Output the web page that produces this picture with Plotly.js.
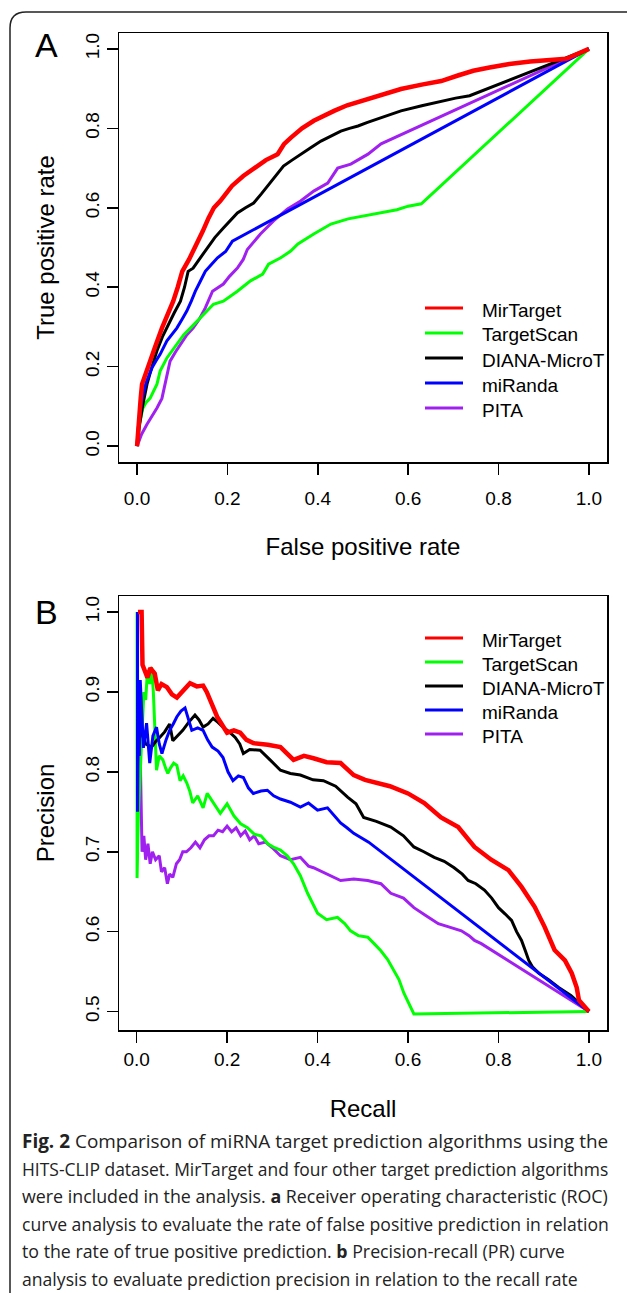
<!DOCTYPE html>
<html><head><meta charset="utf-8">
<script src="https://cdn.plot.ly/plotly-3.0.1.min.js"></script>
<style>html,body{margin:0;padding:0;background:#fff}</style>
</head><body><div id="chart" style="width:627px;height:1293px"></div>
<script>
// ---------- DATA ----------
const seriesNames = ['MirTarget', 'TargetScan', 'DIANA-MicroT', 'miRanda', 'PITA'];
const seriesColors = ['#ff0000', '#00ff00', '#000000', '#0000ff', '#a020f0'];
const tickValues = [0, 0.2, 0.4, 0.6, 0.8, 1.0];
const tickLabels = ['0.0', '0.2', '0.4', '0.6', '0.8', '1.0'];
const prTickValues = [0.5, 0.6, 0.7, 0.8, 0.9, 1.0];
const prTickLabels = ['0.5', '0.6', '0.7', '0.8', '0.9', '1.0'];

// ROC (panel A): false positive rate / true positive rate
const rocMirTargetFpr = [0, 0.003, 0.008, 0.011, 0.018, 0.029, 0.04, 0.055, 0.068, 0.08, 0.09, 0.1, 0.115, 0.129, 0.145, 0.158, 0.17, 0.184, 0.197, 0.21, 0.235, 0.258, 0.285, 0.311, 0.325, 0.34, 0.365, 0.391, 0.415, 0.436, 0.465, 0.496, 0.52, 0.54, 0.584, 0.63, 0.673, 0.71, 0.744, 0.78, 0.824, 0.87, 0.922, 0.95, 1.0];
const rocMirTargetTpr = [0, 0.06, 0.12, 0.156, 0.18, 0.214, 0.25, 0.297, 0.33, 0.365, 0.4, 0.44, 0.47, 0.5, 0.54, 0.574, 0.6, 0.617, 0.638, 0.655, 0.68, 0.70, 0.72, 0.735, 0.76, 0.776, 0.80, 0.819, 0.833, 0.844, 0.858, 0.869, 0.876, 0.882, 0.899, 0.91, 0.919, 0.933, 0.945, 0.953, 0.962, 0.968, 0.972, 0.975, 1.0];
const rocTargetScanFpr = [0, 0.002, 0.008, 0.013, 0.02, 0.029, 0.044, 0.051, 0.066, 0.077, 0.088, 0.103, 0.118, 0.133, 0.147, 0.169, 0.191, 0.207, 0.222, 0.251, 0.278, 0.291, 0.318, 0.34, 0.356, 0.391, 0.429, 0.467, 0.502, 0.54, 0.575, 0.6, 0.629, 1.0];
const rocTargetScanTpr = [0, 0.038, 0.07, 0.096, 0.11, 0.121, 0.156, 0.189, 0.222, 0.24, 0.257, 0.28, 0.297, 0.315, 0.332, 0.357, 0.365, 0.378, 0.39, 0.416, 0.433, 0.458, 0.474, 0.491, 0.509, 0.534, 0.559, 0.572, 0.579, 0.587, 0.595, 0.604, 0.61, 1.0];
const rocDianaFpr = [0, 0.005, 0.012, 0.022, 0.033, 0.044, 0.056, 0.069, 0.082, 0.096, 0.105, 0.113, 0.124, 0.14, 0.156, 0.172, 0.191, 0.205, 0.222, 0.24, 0.258, 0.275, 0.289, 0.305, 0.324, 0.343, 0.362, 0.385, 0.407, 0.43, 0.451, 0.47, 0.489, 0.51, 0.533, 0.56, 0.584, 0.63, 0.673, 0.705, 0.736, 1.0];
const rocDianaTpr = [0, 0.05, 0.1, 0.156, 0.2, 0.24, 0.275, 0.307, 0.335, 0.365, 0.4, 0.44, 0.448, 0.474, 0.499, 0.525, 0.549, 0.567, 0.587, 0.6, 0.612, 0.635, 0.655, 0.68, 0.705, 0.72, 0.735, 0.752, 0.768, 0.782, 0.793, 0.8, 0.806, 0.815, 0.824, 0.834, 0.844, 0.857, 0.869, 0.876, 0.882, 1.0];
const rocMirandaFpr = [0, 0.002, 0.006, 0.01, 0.02, 0.033, 0.042, 0.051, 0.066, 0.077, 0.088, 0.1, 0.11, 0.12, 0.129, 0.14, 0.151, 0.165, 0.178, 0.196, 0.211, 1.0];
const rocMirandaTpr = [0, 0.04, 0.08, 0.113, 0.16, 0.197, 0.215, 0.231, 0.265, 0.28, 0.297, 0.32, 0.34, 0.365, 0.39, 0.415, 0.44, 0.458, 0.474, 0.49, 0.516, 1.0];
const rocPitaFpr = [0, 0.01, 0.022, 0.033, 0.044, 0.055, 0.062, 0.068, 0.073, 0.085, 0.096, 0.11, 0.124, 0.138, 0.151, 0.16, 0.167, 0.191, 0.205, 0.222, 0.235, 0.244, 0.258, 0.273, 0.302, 0.333, 0.362, 0.391, 0.422, 0.435, 0.444, 0.473, 0.511, 0.54, 1.0];
const rocPitaTpr = [0, 0.03, 0.055, 0.075, 0.096, 0.12, 0.156, 0.19, 0.214, 0.237, 0.257, 0.28, 0.297, 0.32, 0.348, 0.37, 0.39, 0.408, 0.428, 0.448, 0.47, 0.495, 0.515, 0.534, 0.567, 0.597, 0.617, 0.642, 0.662, 0.685, 0.70, 0.71, 0.735, 0.761, 1.0];

// PR (panel B): recall / precision
const prMirTargetRecall = [0.003, 0.011, 0.013, 0.018, 0.024, 0.03, 0.04, 0.047, 0.055, 0.067, 0.078, 0.089, 0.1, 0.11, 0.118, 0.133, 0.147, 0.155, 0.162, 0.17, 0.178, 0.19, 0.2, 0.215, 0.229, 0.243, 0.258, 0.29, 0.318, 0.347, 0.37, 0.391, 0.42, 0.451, 0.48, 0.505, 0.533, 0.56, 0.6, 0.636, 0.673, 0.711, 0.747, 0.784, 0.822, 0.851, 0.88, 0.902, 0.924, 0.947, 0.962, 0.973, 0.978, 1.0];
const prMirTargetPrecision = [1.0, 1.0, 0.934, 0.925, 0.918, 0.93, 0.923, 0.902, 0.91, 0.906, 0.897, 0.893, 0.9, 0.905, 0.911, 0.907, 0.908, 0.9, 0.89, 0.88, 0.869, 0.858, 0.849, 0.852, 0.849, 0.84, 0.836, 0.834, 0.831, 0.815, 0.82, 0.817, 0.812, 0.811, 0.796, 0.79, 0.786, 0.782, 0.773, 0.761, 0.743, 0.731, 0.706, 0.69, 0.677, 0.656, 0.631, 0.606, 0.577, 0.564, 0.548, 0.53, 0.514, 0.5];
const prTargetScanRecall = [0.001, 0.001, 0.004, 0.008, 0.012, 0.016, 0.02, 0.024, 0.029, 0.033, 0.037, 0.04, 0.044, 0.05, 0.058, 0.064, 0.069, 0.075, 0.082, 0.089, 0.096, 0.103, 0.111, 0.118, 0.124, 0.135, 0.147, 0.156, 0.165, 0.175, 0.185, 0.2, 0.215, 0.23, 0.245, 0.26, 0.275, 0.29, 0.305, 0.318, 0.333, 0.347, 0.362, 0.378, 0.39, 0.4, 0.42, 0.444, 0.46, 0.473, 0.49, 0.511, 0.525, 0.54, 0.555, 0.569, 0.58, 0.591, 0.602, 0.613, 1.0];
const prTargetScanPrecision = [1.0, 0.667, 0.75, 0.80, 0.85, 0.90, 0.89, 0.927, 0.91, 0.931, 0.90, 0.861, 0.802, 0.82, 0.815, 0.805, 0.798, 0.805, 0.811, 0.808, 0.789, 0.795, 0.786, 0.775, 0.761, 0.77, 0.755, 0.773, 0.765, 0.757, 0.748, 0.76, 0.745, 0.735, 0.73, 0.722, 0.72, 0.71, 0.705, 0.702, 0.695, 0.685, 0.67, 0.648, 0.635, 0.623, 0.615, 0.618, 0.61, 0.601, 0.595, 0.593, 0.585, 0.576, 0.565, 0.551, 0.54, 0.523, 0.51, 0.497, 0.5];
const prDianaRecall = [0.01, 0.02, 0.033, 0.042, 0.051, 0.062, 0.073, 0.08, 0.09, 0.102, 0.115, 0.129, 0.138, 0.147, 0.158, 0.169, 0.18, 0.191, 0.205, 0.218, 0.228, 0.236, 0.25, 0.273, 0.295, 0.318, 0.34, 0.362, 0.39, 0.413, 0.44, 0.467, 0.485, 0.502, 0.53, 0.562, 0.59, 0.613, 0.635, 0.658, 0.68, 0.702, 0.72, 0.733, 0.75, 0.769, 0.785, 0.8, 0.815, 0.829, 0.84, 0.851, 0.86, 0.867, 0.875, 0.889, 0.91, 0.933, 0.96, 1.0];
const prDianaPrecision = [0.85, 0.835, 0.831, 0.838, 0.843, 0.85, 0.86, 0.839, 0.845, 0.852, 0.862, 0.871, 0.865, 0.856, 0.86, 0.867, 0.862, 0.856, 0.85, 0.843, 0.835, 0.823, 0.828, 0.827, 0.815, 0.802, 0.798, 0.796, 0.79, 0.789, 0.782, 0.768, 0.76, 0.743, 0.738, 0.731, 0.72, 0.706, 0.7, 0.693, 0.688, 0.68, 0.672, 0.664, 0.66, 0.652, 0.642, 0.63, 0.622, 0.614, 0.6, 0.589, 0.575, 0.564, 0.556, 0.548, 0.54, 0.53, 0.52, 0.5];
const prMirandaRecall = [0.002, 0.002, 0.004, 0.006, 0.008, 0.011, 0.015, 0.022, 0.029, 0.036, 0.044, 0.05, 0.056, 0.065, 0.073, 0.081, 0.089, 0.098, 0.107, 0.115, 0.122, 0.135, 0.147, 0.157, 0.167, 0.18, 0.191, 0.202, 0.213, 0.225, 0.236, 0.247, 0.258, 0.275, 0.289, 0.303, 0.318, 0.34, 0.362, 0.38, 0.4, 0.422, 0.451, 0.465, 0.48, 0.513, 1.0];
const prMirandaPrecision = [1.0, 0.75, 0.9, 0.82, 0.915, 0.87, 0.83, 0.861, 0.811, 0.845, 0.856, 0.835, 0.823, 0.84, 0.852, 0.86, 0.869, 0.876, 0.88, 0.865, 0.852, 0.855, 0.852, 0.84, 0.831, 0.826, 0.818, 0.8, 0.789, 0.795, 0.793, 0.78, 0.773, 0.776, 0.777, 0.77, 0.766, 0.762, 0.756, 0.761, 0.752, 0.755, 0.736, 0.73, 0.723, 0.712, 0.5];
const prPitaRecall = [0.006, 0.01, 0.012, 0.016, 0.02, 0.025, 0.03, 0.035, 0.042, 0.05, 0.055, 0.062, 0.068, 0.073, 0.08, 0.088, 0.095, 0.102, 0.11, 0.12, 0.13, 0.14, 0.15, 0.16, 0.17, 0.18, 0.19, 0.2, 0.21, 0.22, 0.23, 0.24, 0.25, 0.26, 0.27, 0.285, 0.3, 0.318, 0.34, 0.362, 0.38, 0.391, 0.42, 0.451, 0.48, 0.511, 0.54, 0.562, 0.59, 0.613, 0.64, 0.667, 0.69, 0.718, 0.735, 0.747, 0.762, 1.0];
const prPitaPrecision = [0.88, 0.78, 0.70, 0.72, 0.69, 0.71, 0.685, 0.70, 0.69, 0.695, 0.675, 0.68, 0.66, 0.672, 0.668, 0.685, 0.69, 0.70, 0.70, 0.705, 0.712, 0.705, 0.715, 0.72, 0.72, 0.727, 0.725, 0.732, 0.725, 0.73, 0.72, 0.726, 0.715, 0.72, 0.71, 0.712, 0.705, 0.695, 0.69, 0.693, 0.682, 0.68, 0.672, 0.664, 0.666, 0.664, 0.66, 0.648, 0.642, 0.63, 0.62, 0.61, 0.606, 0.601, 0.595, 0.589, 0.585, 0.5];

const captionLines = [
  '<b>Fig. 2</b> Comparison of miRNA target prediction algorithms using the',
  'HITS-CLIP dataset. MirTarget and four other target prediction algorithms',
  'were included in the analysis. <b>a</b> Receiver operating characteristic (ROC)',
  'curve analysis to evaluate the rate of false positive prediction in relation',
  'to the rate of true positive prediction. <b>b</b> Precision-recall (PR) curve',
  'analysis to evaluate prediction precision in relation to the recall rate'
];

// ---------- LAYOUT HELPERS ----------
const W = 627, H = 1293;
const fx = p => p / W;
const fy = p => 1 - p / H;
const FONT = 'Liberation Sans, Arial, Helvetica, sans-serif';
const CAPFONT = 'Open Sans';

const rocX = [rocMirTargetFpr, rocTargetScanFpr, rocDianaFpr, rocMirandaFpr, rocPitaFpr];
const rocY = [rocMirTargetTpr, rocTargetScanTpr, rocDianaTpr, rocMirandaTpr, rocPitaTpr];
const prX = [prMirTargetRecall, prTargetScanRecall, prDianaRecall, prMirandaRecall, prPitaRecall];
const prY = [prMirTargetPrecision, prTargetScanPrecision, prDianaPrecision, prMirandaPrecision, prPitaPrecision];
const lineWidths = [4.5, 3, 3, 3, 3];
const drawOrder = [4, 1, 2, 3, 0];

const traces = [];
drawOrder.forEach(i => {
  traces.push({x: rocX[i], y: rocY[i], xaxis: 'x', yaxis: 'y', mode: 'lines', name: seriesNames[i],
    line: {color: seriesColors[i], width: lineWidths[i]}, showlegend: false, hoverinfo: 'skip'});
});
drawOrder.forEach(i => {
  traces.push({x: prX[i], y: prY[i], xaxis: 'x2', yaxis: 'y2', mode: 'lines', name: seriesNames[i],
    line: {color: seriesColors[i], width: lineWidths[i]}, showlegend: false, hoverinfo: 'skip'});
});

function rRange(arrs) {
  let lo = Infinity, hi = -Infinity;
  arrs.forEach(a => a.forEach(v => { lo = Math.min(lo, v); hi = Math.max(hi, v); }));
  const pad = (hi - lo) * 0.04;
  return [lo - pad, hi + pad];
}

const axisBase = {
  showline: true, mirror: true, linecolor: '#000', linewidth: 1.5,
  ticks: 'outside', ticklen: 11, tickwidth: 1.5, tickcolor: '#000',
  showgrid: false, zeroline: false,
  tickfont: {family: FONT, size: 19, color: '#000'}
};
const titleFont = {family: FONT, size: 24, color: '#000'};

const layout = {
  width: W, height: H, autosize: false,
  margin: {l: 0, r: 0, t: 0, b: 0},
  paper_bgcolor: '#fff', plot_bgcolor: '#fff',
  showlegend: false,
  xaxis: Object.assign({}, axisBase, {
    domain: [fx(119), fx(607)], range: rRange(rocX), anchor: 'y',
    tickvals: tickValues, ticktext: tickLabels, ticklabelstandoff: 8,
    title: {text: 'False positive rate', font: titleFont, standoff: 30}
  }),
  yaxis: Object.assign({}, axisBase, {
    domain: [fy(462), fy(33)], range: rRange(rocY), anchor: 'x', tickangle: -90,
    tickvals: tickValues, ticktext: tickLabels,
    title: {text: 'True positive rate', font: titleFont, standoff: 20}
  }),
  xaxis2: Object.assign({}, axisBase, {
    domain: [fx(119), fx(607)], range: rRange(prX), anchor: 'y2',
    tickvals: tickValues, ticktext: tickLabels, ticklabelstandoff: 1,
    title: {text: 'Recall', font: titleFont, standoff: 31}
  }),
  yaxis2: Object.assign({}, axisBase, {
    domain: [fy(1030), fy(596)], range: rRange(prY), anchor: 'x2', tickangle: -90,
    tickvals: prTickValues, ticktext: prTickLabels,
    title: {text: 'Precision', font: titleFont, standoff: 20}
  }),
  shapes: [],
  annotations: []
};

// Frame around the figure
const frame = `M ${fx(627)},${fy(12)} L ${fx(26)},${fy(12)} Q ${fx(10)},${fy(12)} ${fx(10)},${fy(28)} L ${fx(10)},${fy(1293)}`;
layout.shapes.push({type: 'path', xref: 'paper', yref: 'paper', path: frame, line: {color: '#222', width: 1.5}});

// Panel letters
[['A', 45], ['B', 612]].forEach(([t, y]) => {
  layout.annotations.push({text: t, xref: 'paper', yref: 'paper', x: fx(47), y: fy(y), xanchor: 'center', yanchor: 'middle',
    showarrow: false, font: {family: FONT, size: 34, color: '#000'}});
});

// Legends
function addLegend(yStart, step) {
  seriesNames.forEach((n, i) => {
    const yc = yStart + i * step;
    layout.shapes.push({type: 'line', xref: 'paper', yref: 'paper', x0: fx(425), x1: fx(463), y0: fy(yc - 2), y1: fy(yc - 2),
      line: {color: seriesColors[i], width: 3}});
    layout.annotations.push({text: n, xref: 'paper', yref: 'paper', x: fx(480), y: fy(yc), xanchor: 'left', yanchor: 'middle',
      showarrow: false, font: {family: FONT, size: 19, color: '#000'}});
  });
}
addLegend(310, 25);
addLegend(640, 24);

// Caption: each line's size is fitted to the width it spans in the reference
const captionRightEdges = [607, 607, 606, 607, 563, 576];
const cv = document.createElement('canvas').getContext('2d');
function lineWidth(html, size) {
  const parts = html.split(/(<b>.*?<\/b>)/);
  let w = 0;
  parts.forEach(p => {
    if (!p) return;
    const bold = p.startsWith('<b>');
    cv.font = (bold ? 'bold ' : '') + size + 'px "' + CAPFONT + '"';
    w += cv.measureText(p.replace(/<\/?b>/g, '')).width;
  });
  return w;
}
captionLines.forEach((t, i) => {
  const size = Math.round(100 * (captionRightEdges[i] - 20) * 20 / lineWidth(t, 20)) / 100;
  layout.annotations.push({text: t, xref: 'paper', yref: 'paper', x: fx(20), y: fy(1141 + i * 27.6),
    xanchor: 'left', yanchor: 'middle', showarrow: false, align: 'left',
    font: {family: CAPFONT, size: size, color: '#222'}});
});

Plotly.newPlot('chart', traces, layout, {staticPlot: true, displayModeBar: false});
</script>
</body></html>
